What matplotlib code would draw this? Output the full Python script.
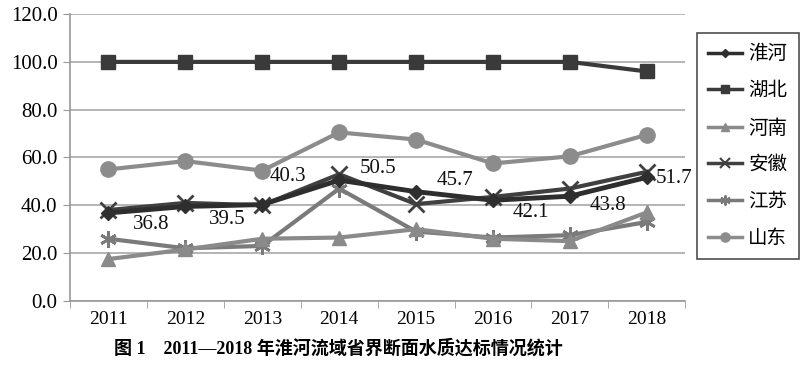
import matplotlib
matplotlib.use("Agg")
import matplotlib.pyplot as plt
import numpy as np

years = ["2011", "2012", "2013", "2014", "2015", "2016", "2017", "2018"]
huaihe = [36.8, 39.5, 40.3, 50.5, 45.7, 42.1, 43.8, 51.7]
hubei = [100, 100, 100, 100, 100, 100, 100, 96]
henan = [17.5, 21.5, 26, 26.5, 30, 26, 25, 37]
anhui = [38, 41, 40, 53, 40.5, 43.5, 47, 54]
jiangsu = [26, 22, 23, 47, 29, 26.5, 27.5, 33]
shandong = [55, 58.5, 54.5, 70.5, 67.5, 57.5, 60.5, 69.5]
series_names = ["淮河", "湖北", "河南", "安徽", "江苏", "山东"]
yticks = [0, 20, 40, 60, 80, 100, 120]
title = "图 1　2011—2018 年淮河流域省界断面水质达标情况统计"

FONT = ["Liberation Serif", "Noto Sans CJK SC"]
plt.rcParams["font.family"] = FONT

fig = plt.figure(figsize=(8, 3.71), dpi=100)
ax = fig.add_axes([0.0875, 0.189, 0.769, 0.773])
x = np.arange(len(years))

styles = [
    (huaihe, "#2e2e2e", "D", 7, 3.5, 5),
    (hubei, "#3a3a3a", "s", 10, 3.0, 6),
    (henan, "#8a8a8a", "^", 10, 3.0, 3),
    (anhui, "#404040", "x", 11, 3.0, 4),
    (jiangsu, "#7a7a7a", (6, 2, 0), 12, 3.0, 2),
    (shandong, "#8c8c8c", "o", 11, 3.0, 1),
]
handles = []
for (vals, col, mk, ms, lw, z), name in zip(styles, series_names):
    h, = ax.plot(x, vals, color=col, marker=mk, markersize=ms, linewidth=lw,
                 markeredgewidth=2 if mk in ("x",) or isinstance(mk, tuple) else 1,
                 markeredgecolor=col, label=name, zorder=z)
    handles.append(h)

offsets = [(43, -12), (42, -13), (26, 28), (39, 12), (39, 11), (38, -12), (38, -9), (27, -1)]
for xi, v, off in zip(x, huaihe, offsets):
    ax.annotate(f"{v:.1f}", (xi, v), xytext=off, textcoords="offset pixels",
                ha="center", va="center", fontsize=15, color="#111111", zorder=10)

ax.set_xlim(-0.5, len(years) - 0.5)
ax.set_ylim(0, 120)
ax.set_yticks(yticks)
ax.set_yticklabels([f"{t:.1f}" for t in yticks], fontsize=15)
ax.set_xticks(x)
ax.set_xticklabels(years, fontsize=14)
ax.set_xticks(np.arange(-0.5, len(years), 1), minor=True)
ax.tick_params(axis="x", which="major", length=0, pad=7)
ax.tick_params(axis="x", which="minor", length=5, color="#999999")
ax.tick_params(axis="y", length=5, color="#999999", pad=4)
ax.grid(axis="y", color="#a8a8a8", linewidth=1.2, zorder=0)
ax.set_axisbelow(True)
for s in ["top", "right"]:
    ax.spines[s].set_visible(False)
for s in ["left", "bottom"]:
    ax.spines[s].set_color("#999999")
    ax.spines[s].set_linewidth(1.2)

leg_handles = []
for (vals, col, mk, ms, lw, z), name in zip(styles, series_names):
    lh, = plt.plot([], [], color=col, marker=mk, markersize=ms * 0.6, linewidth=2.5,
                   markeredgewidth=1.5 if mk in ("x",) or isinstance(mk, tuple) else 1,
                   markeredgecolor=col, label=name)
    leg_handles.append(lh)

leg = fig.legend(handles=leg_handles, loc="upper left", bbox_to_anchor=(0.871, 0.91),
                 borderaxespad=0, frameon=True, fancybox=False, edgecolor="#222222",
                 prop={"family": FONT, "size": 14}, handlelength=1.7,
                 labelspacing=0.98, borderpad=0.6, handletextpad=0.35)
leg.get_frame().set_linewidth(1.2)

fig.text(0.423, 0.06, title, ha="center", va="center", fontsize=13,
         fontweight="bold", family=FONT)

fig.savefig("out.png", dpi=100)
